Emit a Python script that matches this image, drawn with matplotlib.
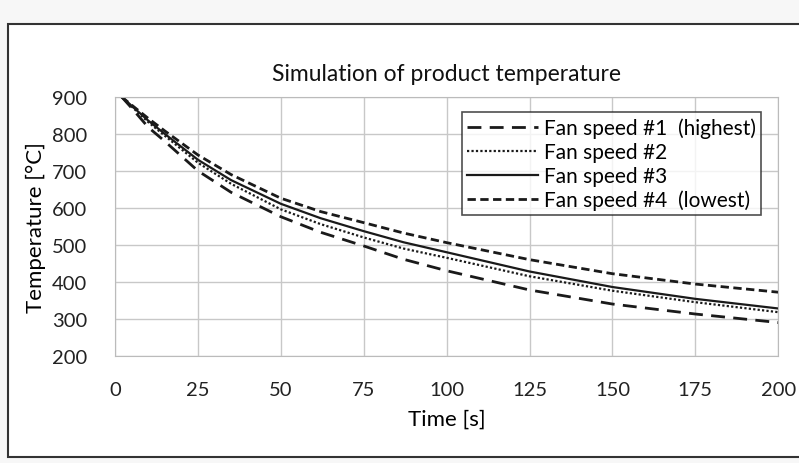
import matplotlib
matplotlib.use("Agg")
import matplotlib.pyplot as plt
from matplotlib.patches import Rectangle

plt.rcParams['font.family'] = ['Lato', 'DejaVu Sans']

# values
time_s = [2, 5, 10, 15, 25, 35, 50, 62, 75, 87, 100, 125, 150, 175, 200]
fan1 = [900, 870, 818, 780, 700, 642, 576, 534, 497, 461, 430, 378, 340, 313, 290]
fan2 = [900, 874, 832, 795, 722, 665, 596, 556, 520, 490, 465, 415, 376, 345, 318]
fan3 = [900, 876, 836, 800, 730, 675, 611, 572, 537, 507, 480, 428, 386, 354, 328]
fan4 = [900, 878, 842, 808, 743, 690, 626, 590, 560, 532, 506, 460, 422, 394, 372]

labels = ['Fan speed #1  (highest)', 'Fan speed #2', 'Fan speed #3', 'Fan speed #4  (lowest)']
x_ticks = [0, 25, 50, 75, 100, 125, 150, 175, 200]
y_ticks = [200, 300, 400, 500, 600, 700, 800, 900]

fig = plt.figure(figsize=(7.99, 4.64), dpi=100, facecolor='#f7f7f7')
ax = fig.add_axes([0.144, 0.231, 0.830, 0.558])
ax.set_facecolor('white')

# outer frame of the chart object
fig.patches.append(Rectangle((0.010, 0.012), 0.995, 0.935, transform=fig.transFigure,
                             fill=True, facecolor='white', edgecolor='#333333', lw=1.5, zorder=-10))

c = '#1a1a1a'
ax.plot(time_s, fan1, color=c, lw=2.0, ls=(0, (5, 3)), label=labels[0])
ax.plot(time_s, fan2, color=c, lw=1.6, ls=(0, (1, 1)), label=labels[1])
ax.plot(time_s, fan3, color=c, lw=1.6, ls='-', label=labels[2])
ax.plot(time_s, fan4, color=c, lw=2.0, ls=(0, (3, 1.6)), label=labels[3])

ax.set_xlim(0, 200)
ax.set_ylim(200, 900)
ax.set_xticks(x_ticks)
ax.set_yticks(y_ticks)
ax.grid(True, color='#c8c8c8', lw=1.0)
ax.tick_params(length=0, labelsize=14.5, colors='#222222')
ax.tick_params(axis='x', pad=18)
ax.tick_params(axis='y', pad=20)
for s in ax.spines.values():
    s.set_color('#bbbbbb')

ax.set_title('Simulation of product temperature', fontsize=16.5, pad=12, color='#111111')
ax.set_xlabel('Time [s]', fontsize=16, labelpad=8)
ax.set_ylabel('Temperature [°C]', fontsize=16, labelpad=4)

leg = ax.legend(loc='upper right', bbox_to_anchor=(0.99, 0.98), fontsize=15,
                handlelength=3.4, handletextpad=0.3, labelspacing=0.18,
                borderpad=0.25, frameon=True, fancybox=False)
leg.get_frame().set_edgecolor('#222222')
leg.get_frame().set_linewidth(1.2)

fig.savefig('out.png', dpi=100, facecolor=fig.get_facecolor())
